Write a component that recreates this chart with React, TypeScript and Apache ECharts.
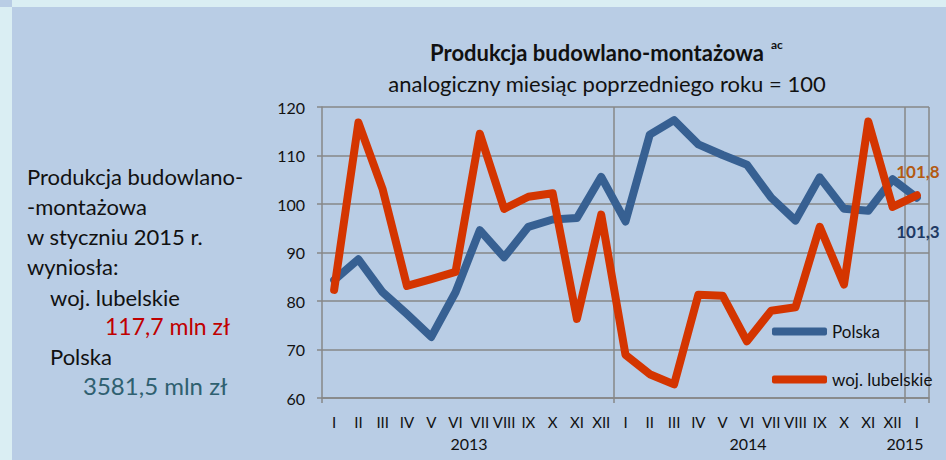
import React, { useEffect, useRef } from "react";
import * as echarts from "echarts";

const months = ["I","II","III","IV","V","VI","VII","VIII","IX","X","XI","XII","I","II","III","IV","V","VI","VII","VIII","IX","X","XI","XII","I"];
const years = ["2013", "2014", "2015"];
const polska = [84.3, 88.6, 81.8, 77.3, 72.6, 81.8, 94.6, 89.0, 95.3, 96.8, 97.1, 105.6, 96.4, 114.3, 117.3, 112.3, 110.1, 108.1, 101.3, 96.6, 105.5, 99.0, 98.6, 105.1, 101.3];
const lubelskie = [82.3, 116.8, 103.0, 83.1, 84.5, 86.0, 114.5, 99.0, 101.5, 102.2, 76.3, 97.8, 68.9, 64.9, 62.8, 81.3, 81.1, 71.7, 78.0, 78.7, 95.3, 83.4, 117.0, 99.4, 101.8];
const seriesNames = ["Polska", "woj. lubelskie"];
const titleText = "Produkcja budowlano-montażowa";
const subtitleText = "analogiczny miesiąc poprzedniego roku = 100";
const sideLines = ["Produkcja budowlano-", "-montażowa", "w styczniu 2015 r.", "wyniosła:"];
const lubValue = "117,7 mln zł";
const plValue = "3581,5 mln zł";

const FONT = "Lato, 'Open Sans', sans-serif";
const GRID = "#878787";
const fmt = (v: number) => v.toFixed(1).replace(".", ",");

function txt(x: number, y: number, text: string, size: number, fill: string, weight = "normal", align = "left") {
  return {
    type: "text", x, y, silent: true,
    style: { text, fontSize: size, fontFamily: FONT, fontWeight: weight, fill, align, verticalAlign: "middle" },
  };
}

export default function App() {
  const ref = useRef<HTMLDivElement>(null);
  useEffect(() => {
    document.body.style.margin = "0";
    const chart = echarts.init(ref.current!, null, { renderer: "svg" });
    const lastIdx = months.length - 1;
    const boundary = (i: number) => i === 0 || i === 12 || i === 24;
    const endMark = (v: number, color: string, dy: number) => ({
      symbol: "circle",
      symbolSize: 1,
      itemStyle: { color: "rgba(0,0,0,0)" },
      silent: true,
      data: [{ coord: [lastIdx, v], value: v }],
      label: {
        show: true,
        position: "inside",
        offset: [1, dy],
        formatter: () => fmt(v),
        color,
        fontWeight: "bold",
        fontSize: 17,
        fontFamily: FONT,
      },
    });
    chart.setOption({
      animation: false,
      backgroundColor: "#B9CDE5",
      textStyle: { fontFamily: FONT },
      grid: { left: 322, right: 17, top: 107, bottom: 62, containLabel: false },
      legend: {
        data: seriesNames,
        orient: "vertical",
        left: 772,
        top: 323,
        padding: 0,
        itemWidth: 55,
        itemHeight: 8,
        itemGap: 31,
        icon: "roundRect",
        textStyle: { fontSize: 17, lineHeight: 16, color: "#111", fontFamily: FONT, padding: [0, 0, 0, 0] },
      },
      xAxis: {
        type: "category",
        data: months,
        boundaryGap: true,
        axisLine: { show: true, lineStyle: { color: GRID, width: 1.5 } },
        axisTick: { show: true, length: 5, interval: (i: number) => boundary(i), lineStyle: { color: GRID, width: 1.5 } },
        splitLine: { show: true, interval: (i: number) => i === 12 || i === 24, lineStyle: { color: GRID, width: 1.5 } },
        axisLabel: { interval: 0, fontSize: 15, color: "#111", margin: 16, fontFamily: FONT },
      },
      yAxis: {
        type: "value",
        min: 60,
        max: 120,
        interval: 10,
        axisLine: { show: true, lineStyle: { color: GRID, width: 1.5 } },
        axisTick: { show: true, length: 5, lineStyle: { color: GRID, width: 1.5 } },
        splitLine: { show: true, lineStyle: { color: GRID, width: 1.5 } },
        axisLabel: { fontSize: 16, color: "#111", margin: 17, fontFamily: FONT },
      },
      series: [
        {
          name: seriesNames[0],
          type: "line",
          data: polska,
          showSymbol: false,
          symbol: "none",
          color: "#376092",
          lineStyle: { width: 8, color: "#376092", cap: "round", join: "round" },
          markPoint: endMark(polska[lastIdx], "#1F3A64", 34),
          z: 2,
        },
        {
          name: seriesNames[1],
          type: "line",
          data: lubelskie,
          showSymbol: false,
          symbol: "none",
          color: "#D43500",
          lineStyle: { width: 8, color: "#D43500", cap: "round", join: "round" },
          markPoint: endMark(lubelskie[lastIdx], "#B35A12", -24),
          z: 3,
        },
      ],
      graphic: [
        { type: "rect", silent: true, shape: { x: 12, y: 0, width: 934, height: 7 }, style: { fill: "#DAEEF3" } },
        { type: "rect", silent: true, shape: { x: 0, y: 7, width: 12, height: 453 }, style: { fill: "#DAEEF3" } },
        txt(597, 52, titleText, 22, "#111", "bold", "center"),
        txt(771, 44, "ac", 12, "#111", "bold"),
        txt(607, 83, subtitleText, 22, "#111", "normal", "center"),
        ...sideLines.map((t, i) => txt(27, 176 + i * 30, t, 22, "#111")),
        txt(50, 297, seriesNames[1], 22, "#111"),
        txt(105, 326, lubValue, 23, "#C00000"),
        txt(50, 356, seriesNames[0], 22, "#111"),
        txt(83, 385, plValue, 24, "#2F6070"),
        txt(469, 443, years[0], 16, "#111", "normal", "center"),
        txt(748, 443, years[1], 16, "#111", "normal", "center"),
        txt(905, 443, years[2], 16, "#111", "normal", "center"),
      ],
    });
    return () => chart.dispose();
  }, []);
  return <div ref={ref} style={{ position: "absolute", left: 0, top: 0, width: 946, height: 460 }} />;
}
